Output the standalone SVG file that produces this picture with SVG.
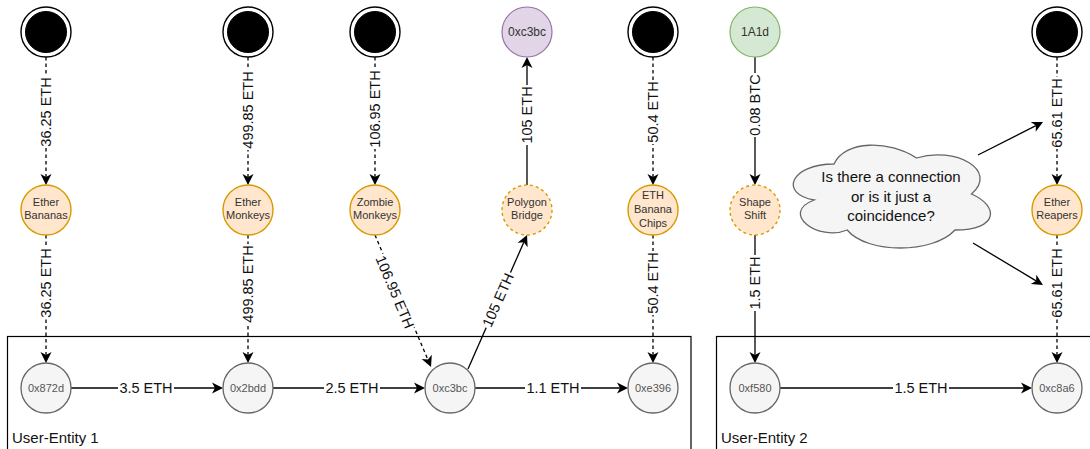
<svg xmlns="http://www.w3.org/2000/svg" width="1090" height="449" viewBox="0 0 1090 449">
  <style>
    text { font-family: "Liberation Sans", Arial, sans-serif; }
    .box { fill: none; stroke: #000; stroke-width: 1.2; }
    .boxlbl { font-size: 15px; fill: #111; }
    .src-outer { fill: #fff; stroke: #000; stroke-width: 1.4; }
    .src-inner { fill: #000; stroke: #000; stroke-width: 1; }
    .purple { fill: #e1d5e7; stroke: #9673a6; stroke-width: 1.2; }
    .green { fill: #d5e8d4; stroke: #82b366; stroke-width: 1.2; }
    .orange { fill: #ffe6cc; stroke: #d79b00; stroke-width: 1.4; }
    .orange.dash { stroke-dasharray: 3 3; }
    .gray { fill: #f5f5f5; stroke: #666; stroke-width: 1.3; }
    .ntext { font-size: 11px; fill: #333; text-anchor: middle; }
    .ttext { font-size: 12px; fill: #333; text-anchor: middle; }
    .gtext { font-size: 11px; fill: #555; text-anchor: middle; }
    .edge { fill: none; stroke: #000; stroke-width: 1.3; marker-end: url(#arr); }
    .edge.dashed { stroke-dasharray: 3.5 3; }
    .bg { fill: #fff; }
    .elbl { font-size: 14.5px; fill: #111; text-anchor: middle; }
    .cloud { fill: #f5f5f5; stroke: #666; stroke-width: 1.3; }
    .ctext { font-size: 15px; fill: #111; text-anchor: middle; }
  </style>
  <defs>
    <marker id="arr" viewBox="-4 -6 13 12" refX="0" refY="0" markerWidth="13" markerHeight="12" markerUnits="userSpaceOnUse" orient="auto">
      <path d="M8,0 L-3,-5.5 L0,0 L-3,5.5 Z" fill="#000"/>
    </marker>
  </defs>

  <!-- entity containers -->
  <g id="entity1">
    <rect class="box" x="7.5" y="336.5" width="683.5" height="130"/>
    <text class="boxlbl" x="12" y="443">User-Entity 1</text>
  </g>
  <g id="entity2">
    <rect class="box" x="716.5" y="336.5" width="400" height="130"/>
    <text class="boxlbl" x="721" y="443">User-Entity 2</text>
  </g>

  <!-- connectors -->
  <g id="connectors">
    <!-- sources to services -->
    <line class="edge dashed" x1="46" y1="57" x2="46" y2="177"/>
    <line class="edge dashed" x1="248" y1="57" x2="248" y2="177"/>
    <line class="edge dashed" x1="375" y1="57" x2="375" y2="177"/>
    <line class="edge" x1="527" y1="185" x2="527" y2="65"/>
    <line class="edge dashed" x1="653" y1="57" x2="653" y2="177"/>
    <line class="edge" x1="755" y1="57" x2="755" y2="177"/>
    <line class="edge dashed" x1="1057" y1="57" x2="1057" y2="177"/>
    <!-- services to addresses -->
    <line class="edge dashed" x1="46" y1="235" x2="46" y2="355"/>
    <line class="edge dashed" x1="248" y1="235" x2="248" y2="355"/>
    <line class="edge dashed" x1="375" y1="235" x2="427.9" y2="359.6"/>
    <line class="edge" x1="468" y1="369" x2="523.8" y2="242.3"/>
    <line class="edge dashed" x1="653" y1="235" x2="653" y2="355"/>
    <line class="edge" x1="755" y1="235" x2="755" y2="355"/>
    <line class="edge dashed" x1="1057" y1="235" x2="1057" y2="355"/>
    <!-- address to address -->
    <line class="edge" x1="71" y1="388" x2="215" y2="388"/>
    <line class="edge" x1="273" y1="388" x2="417" y2="388"/>
    <line class="edge" x1="475" y1="388" x2="620" y2="388"/>
    <line class="edge" x1="780" y1="388" x2="1024" y2="388"/>
    <!-- cloud pointers -->
    <line class="edge" x1="978" y1="155" x2="1035.9" y2="125.6"/>
    <line class="edge" x1="973" y1="243" x2="1036.1" y2="280.9"/>

    <!-- labels -->
    <g transform="translate(46,112) rotate(-90)"><rect class="bg" x="-36" y="-8" width="72" height="16"/><text class="elbl" dy="0.35em">36.25 ETH</text></g>
    <g transform="translate(248,110) rotate(-90)"><rect class="bg" x="-40" y="-8" width="80" height="16"/><text class="elbl" dy="0.35em">499.85 ETH</text></g>
    <g transform="translate(375,109) rotate(-90)"><rect class="bg" x="-40" y="-8" width="80" height="16"/><text class="elbl" dy="0.35em">106.95 ETH</text></g>
    <g transform="translate(527,115) rotate(-90)"><rect class="bg" x="-30" y="-8" width="60" height="16"/><text class="elbl" dy="0.35em">105 ETH</text></g>
    <g transform="translate(653,112) rotate(-90)"><rect class="bg" x="-32" y="-8" width="64" height="16"/><text class="elbl" dy="0.35em">50.4 ETH</text></g>
    <g transform="translate(755,105) rotate(-90)"><rect class="bg" x="-32" y="-8" width="64" height="16"/><text class="elbl" dy="0.35em">0.08 BTC</text></g>
    <g transform="translate(1057,113) rotate(-90)"><rect class="bg" x="-36" y="-8" width="72" height="16"/><text class="elbl" dy="0.35em">65.61 ETH</text></g>

    <g transform="translate(46,283) rotate(-90)"><rect class="bg" x="-36" y="-8" width="72" height="16"/><text class="elbl" dy="0.35em">36.25 ETH</text></g>
    <g transform="translate(248,284) rotate(-90)"><rect class="bg" x="-40" y="-8" width="80" height="16"/><text class="elbl" dy="0.35em">499.85 ETH</text></g>
    <g transform="translate(395,292) rotate(67)"><rect class="bg" x="-40" y="-8" width="80" height="16"/><text class="elbl" dy="0.35em">106.95 ETH</text></g>
    <g transform="translate(498,300) rotate(-66)"><rect class="bg" x="-30" y="-8" width="60" height="16"/><text class="elbl" dy="0.35em">105 ETH</text></g>
    <g transform="translate(653,283) rotate(-90)"><rect class="bg" x="-32" y="-8" width="64" height="16"/><text class="elbl" dy="0.35em">50.4 ETH</text></g>
    <g transform="translate(755,283) rotate(-90)"><rect class="bg" x="-28" y="-8" width="56" height="16"/><text class="elbl" dy="0.35em">1.5 ETH</text></g>
    <g transform="translate(1057,283) rotate(-90)"><rect class="bg" x="-36" y="-8" width="72" height="16"/><text class="elbl" dy="0.35em">65.61 ETH</text></g>

    <g transform="translate(146,388)"><rect class="bg" x="-28" y="-8" width="56" height="16"/><text class="elbl" dy="0.35em">3.5 ETH</text></g>
    <g transform="translate(352,388)"><rect class="bg" x="-28" y="-8" width="56" height="16"/><text class="elbl" dy="0.35em">2.5 ETH</text></g>
    <g transform="translate(553,388)"><rect class="bg" x="-28" y="-8" width="56" height="16"/><text class="elbl" dy="0.35em">1.1 ETH</text></g>
    <g transform="translate(921,388)"><rect class="bg" x="-28" y="-8" width="56" height="16"/><text class="elbl" dy="0.35em">1.5 ETH</text></g>
  </g>

  <!-- unknown sources -->
  <g id="src1"><circle class="src-outer" cx="46" cy="32" r="25"/><circle class="src-inner" cx="46" cy="32" r="20.5"/></g>
  <g id="src2"><circle class="src-outer" cx="248" cy="32" r="25"/><circle class="src-inner" cx="248" cy="32" r="20.5"/></g>
  <g id="src3"><circle class="src-outer" cx="375" cy="32" r="25"/><circle class="src-inner" cx="375" cy="32" r="20.5"/></g>
  <g id="src4"><circle class="src-outer" cx="653" cy="32" r="25"/><circle class="src-inner" cx="653" cy="32" r="20.5"/></g>
  <g id="src5"><circle class="src-outer" cx="1057" cy="32" r="25"/><circle class="src-inner" cx="1057" cy="32" r="20.5"/></g>

  <!-- external addresses -->
  <g id="ext-0xc3bc"><circle class="purple" cx="527" cy="32" r="25"/><text class="ttext" x="527" y="36">0xc3bc</text></g>
  <g id="ext-1A1d"><circle class="green" cx="755" cy="32" r="25"/><text class="ttext" x="755" y="36">1A1d</text></g>

  <!-- services -->
  <g id="svc-ether-bananas"><circle class="orange" cx="46" cy="210" r="25"/><text class="ntext" x="46" y="206">Ether</text><text class="ntext" x="46" y="219">Bananas</text></g>
  <g id="svc-ether-monkeys"><circle class="orange" cx="248" cy="210" r="25"/><text class="ntext" x="248" y="206">Ether</text><text class="ntext" x="248" y="219">Monkeys</text></g>
  <g id="svc-zombie-monkeys"><circle class="orange" cx="375" cy="210" r="25"/><text class="ntext" x="375" y="206">Zombie</text><text class="ntext" x="375" y="219">Monkeys</text></g>
  <g id="svc-polygon-bridge"><circle class="orange dash" cx="527" cy="210" r="25"/><text class="ntext" x="527" y="206">Polygon</text><text class="ntext" x="527" y="219">Bridge</text></g>
  <g id="svc-eth-banana-chips"><circle class="orange" cx="653" cy="210" r="25"/><text class="ntext" x="653" y="199">ETH</text><text class="ntext" x="653" y="213">Banana</text><text class="ntext" x="653" y="227">Chips</text></g>
  <g id="svc-shape-shift"><circle class="orange dash" cx="755" cy="210" r="25"/><text class="ntext" x="755" y="206">Shape</text><text class="ntext" x="755" y="219">Shift</text></g>
  <g id="svc-ether-reapers"><circle class="orange" cx="1057" cy="210" r="25"/><text class="ntext" x="1057" y="206">Ether</text><text class="ntext" x="1057" y="219">Reapers</text></g>

  <!-- user addresses -->
  <g id="addr-0x872d"><circle class="gray" cx="46" cy="388" r="25"/><text class="gtext" x="46" y="392">0x872d</text></g>
  <g id="addr-0x2bdd"><circle class="gray" cx="248" cy="388" r="25"/><text class="gtext" x="248" y="392">0x2bdd</text></g>
  <g id="addr-0xc3bc"><circle class="gray" cx="450" cy="388" r="25"/><text class="gtext" x="450" y="392">0xc3bc</text></g>
  <g id="addr-0xe396"><circle class="gray" cx="653" cy="388" r="25"/><text class="gtext" x="653" y="392">0xe396</text></g>
  <g id="addr-0xf580"><circle class="gray" cx="755" cy="388" r="25"/><text class="gtext" x="755" y="392">0xf580</text></g>
  <g id="addr-0xc8a6"><circle class="gray" cx="1057" cy="388" r="25"/><text class="gtext" x="1057" y="392">0xc8a6</text></g>

  <!-- question cloud (box 779,134 220x120) -->
  <g id="cloud">
    <path class="cloud" d="M834,164 C790,164 779,194 814.2,200 C779,213.2 818.6,242 847.2,230 C867,254 933,254 955,230 C999,230 999,206 971.5,194 C999,170 955,146 916.5,158 C889,140 845,140 834,164 Z"/>
    <text class="ctext" x="891" y="182">Is there a connection</text>
    <text class="ctext" x="891" y="202">or is it just a</text>
    <text class="ctext" x="891" y="221">coincidence?</text>
  </g>
</svg>
